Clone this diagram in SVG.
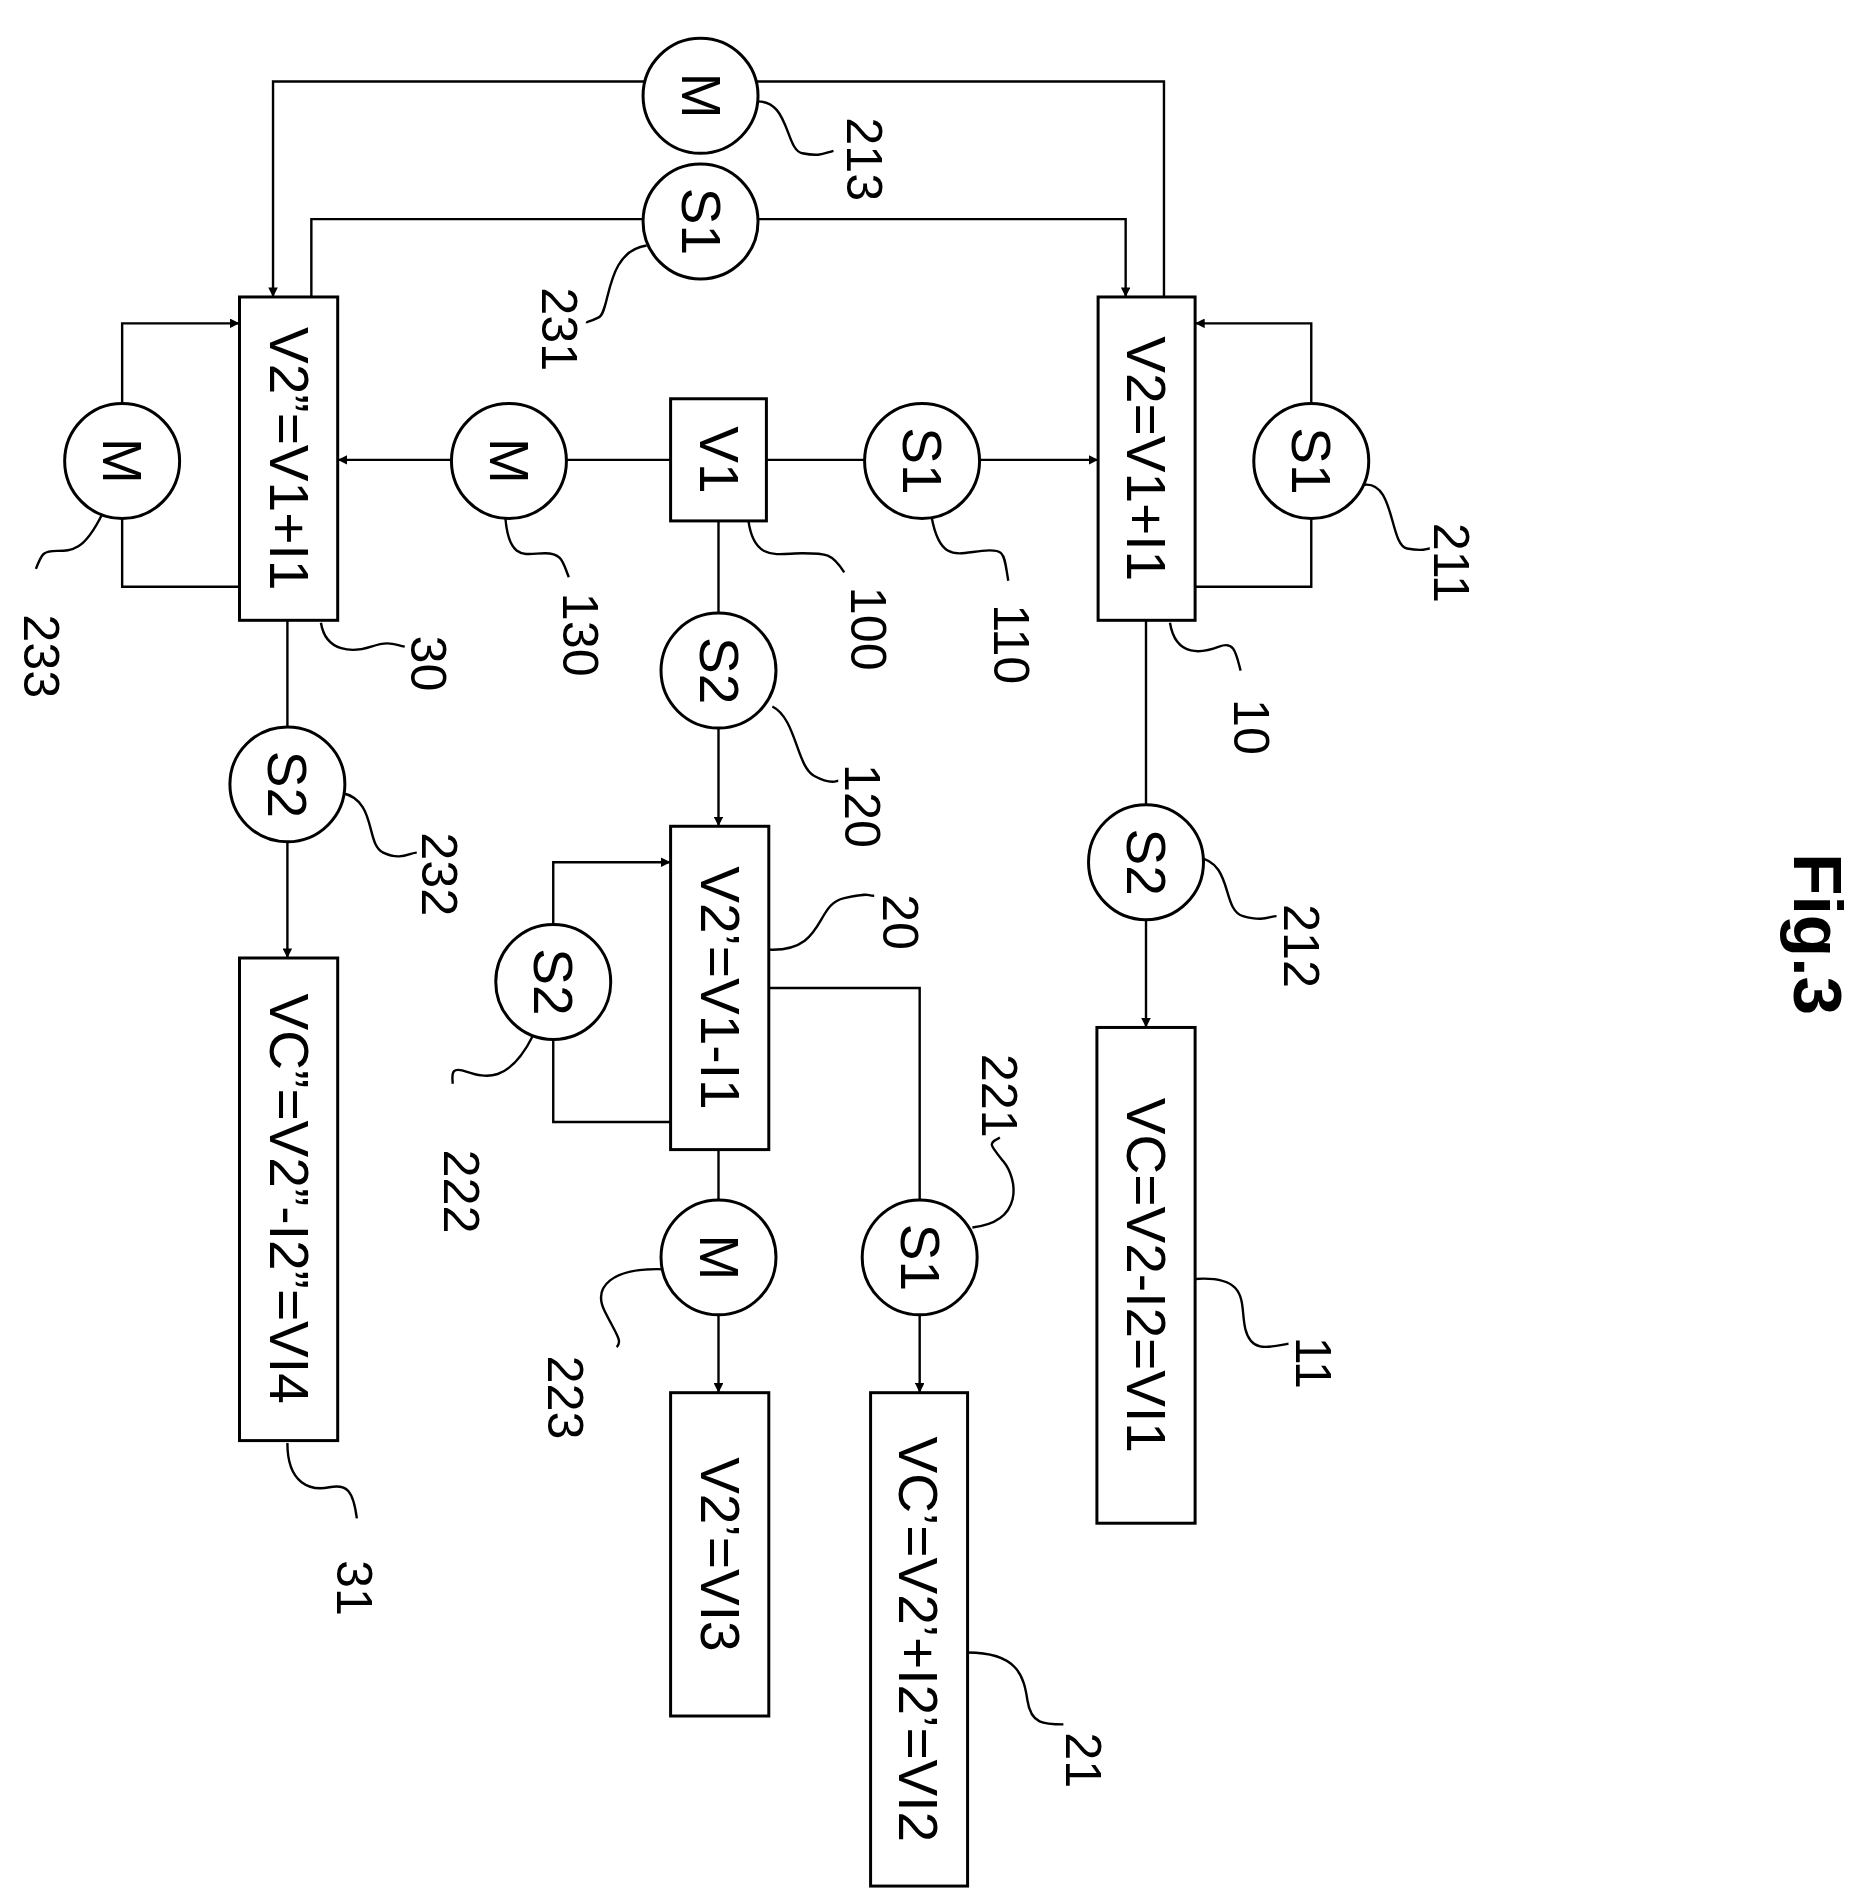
<svg xmlns="http://www.w3.org/2000/svg" width="1868" height="1904" viewBox="0 0 1868 1904">
<defs>
<style>
.b{fill:#fff;stroke:#000;stroke-width:2.5}
.c{fill:#fff;stroke:#000;stroke-width:2.5}
.l{fill:none;stroke:#000;stroke-width:2}
.t{font-family:"Liberation Sans",Arial,sans-serif;font-size:46px;text-anchor:middle;dominant-baseline:central}
.n{font-family:"Liberation Sans",Arial,sans-serif;font-size:42px;text-anchor:middle;dominant-baseline:central}
</style>
<marker id="a" viewBox="0 0 10 10" refX="10" refY="5" markerWidth="8" markerHeight="8" orient="auto" markerUnits="userSpaceOnUse"><path d="M0,0 L10,5 L0,10 z" fill="#000"/></marker>
</defs>
<rect width="1868" height="1904" fill="#fff"/>
<g transform="scale(1.1975)">
<g id="connectors">
<path class="l" d="M540,68 H228 V248" style="marker-end:url(#a)"/>
<path class="l" d="M630,68 H972 V248"/>
<path class="l" d="M540,183 H260 V248"/>
<path class="l" d="M630,183 H940 V248" style="marker-end:url(#a)"/>
<path class="l" d="M200,490 H102 V270 H200" style="marker-end:url(#a)"/>
<path class="l" d="M998,490 H1095 V270 H998" style="marker-end:url(#a)"/>
<path class="l" d="M560,384 H282" style="marker-end:url(#a)"/>
<path class="l" d="M640,384 H917" style="marker-end:url(#a)"/>
<path class="l" d="M600,435 V690" style="marker-end:url(#a)"/>
<path class="l" d="M560,937 H462 V720 H560" style="marker-end:url(#a)"/>
<path class="l" d="M600,960 V1163" style="marker-end:url(#a)"/>
<path class="l" d="M642,825 H768 V1163" style="marker-end:url(#a)"/>
<path class="l" d="M240,518 V800" style="marker-end:url(#a)"/>
<path class="l" d="M957,518 V858" style="marker-end:url(#a)"/>
<!-- leaders -->
<path class="l" d="M628,85 C660,80 655,125 670,128 S688,128 696,126"/>
<path class="l" d="M540,205 C505,210 510,260 500,265 S490,268 490,270"/>
<path class="l" d="M85,430 C70,460 60,460 48,460 S35,462 30,475"/>
<path class="l" d="M422,432 C425,470 440,462 455,462 S470,470 475,482"/>
<path class="l" d="M625,435 C630,470 650,462 670,462 S695,462 705,478"/>
<path class="l" d="M778,432 C785,470 800,462 820,460 S838,462 842,485"/>
<path class="l" d="M1138,405 C1165,400 1160,455 1175,458 S1190,458 1194,458"/>
<path class="l" d="M268,520 C272,545 295,545 310,540 S328,538 338,540"/>
<path class="l" d="M977,520 C982,550 1005,545 1018,540 S1032,545 1036,560"/>
<path class="l" d="M645,590 C665,600 665,640 680,648 S698,652 700,652"/>
<path class="l" d="M285,662 C315,668 305,705 320,712 S342,712 348,712"/>
<path class="l" d="M1000,716 C1030,720 1020,760 1038,765 S1060,765 1066,765"/>
<path class="l" d="M642,793 C690,795 680,755 705,750 S722,748 730,748"/>
<path class="l" d="M812,1025 C855,1020 850,985 838,970 S825,955 835,950"/>
<path class="l" d="M445,865 C425,905 405,900 390,895 S378,898 378,905"/>
<path class="l" d="M556,1060 C510,1058 495,1075 505,1095 S520,1120 515,1125"/>
<path class="l" d="M998,1068 C1045,1065 1035,1090 1040,1110 S1060,1125 1076,1122"/>
<path class="l" d="M240,1205 C240,1240 260,1245 275,1242 S295,1245 298,1268"/>
<path class="l" d="M808,1380 C850,1380 855,1400 858,1420 S872,1440 888,1440"/>
</g>
<g id="n100"><rect class="b" x="560" y="333" width="80" height="102"/><text class="t" transform="translate(600,384) rotate(90)">V1</text></g>
<g id="n10"><rect class="b" x="917" y="248" width="81" height="270"/><text class="t" transform="translate(957,383) rotate(90)">V2=V1+I1</text></g>
<g id="n30"><rect class="b" x="200" y="248" width="82" height="270"/><text class="t" transform="translate(241,383) rotate(90)">V2”=V1+I1</text></g>
<g id="n20"><rect class="b" x="560" y="690" width="82" height="270"/><text class="t" transform="translate(601,825) rotate(90)">V2’=V1-I1</text></g>
<g id="n11"><rect class="b" x="916" y="858" width="82" height="414"/><text class="t" transform="translate(957,1065) rotate(90)">VC=V2-I2=VI1</text></g>
<g id="n31"><rect class="b" x="200" y="800" width="82" height="403"/><text class="t" transform="translate(241,1001) rotate(90)">VC”=V2”-I2”=VI4</text></g>
<g id="nvi3"><rect class="b" x="560" y="1163" width="82" height="270"/><text class="t" transform="translate(601,1298) rotate(90)">V2’=VI3</text></g>
<g id="n21"><rect class="b" x="727" y="1163" width="81" height="412"/><text class="t" transform="translate(767,1369) rotate(90)">VC’=V2’+I2’=VI2</text></g>
<g id="c213"><circle class="c" cx="585" cy="80" r="48"/><text class="t" transform="translate(585,80) rotate(90)">M</text></g>
<g id="c231"><circle class="c" cx="585" cy="185" r="48"/><text class="t" transform="translate(585,185) rotate(90)">S1</text></g>
<g id="c233"><circle class="c" cx="102" cy="385" r="48"/><text class="t" transform="translate(102,385) rotate(90)">M</text></g>
<g id="c130"><circle class="c" cx="425" cy="385" r="48"/><text class="t" transform="translate(425,385) rotate(90)">M</text></g>
<g id="c110"><circle class="c" cx="770" cy="385" r="48"/><text class="t" transform="translate(770,385) rotate(90)">S1</text></g>
<g id="c211"><circle class="c" cx="1095" cy="385" r="48"/><text class="t" transform="translate(1095,385) rotate(90)">S1</text></g>
<g id="c120"><circle class="c" cx="600" cy="560" r="48"/><text class="t" transform="translate(600,560) rotate(90)">S2</text></g>
<g id="c232"><circle class="c" cx="240" cy="655" r="48"/><text class="t" transform="translate(240,655) rotate(90)">S2</text></g>
<g id="c212"><circle class="c" cx="957" cy="720" r="48"/><text class="t" transform="translate(957,720) rotate(90)">S2</text></g>
<g id="c222"><circle class="c" cx="462" cy="820" r="48"/><text class="t" transform="translate(462,820) rotate(90)">S2</text></g>
<g id="c223"><circle class="c" cx="600" cy="1050" r="48"/><text class="t" transform="translate(600,1050) rotate(90)">M</text></g>
<g id="c221"><circle class="c" cx="768" cy="1050" r="48"/><text class="t" transform="translate(768,1050) rotate(90)">S1</text></g>
<g id="labels">
<text class="n" transform="translate(722,133) rotate(90)">213</text>
<text class="n" transform="translate(467,275) rotate(90)">231</text>
<text class="n" transform="translate(35,548) rotate(90)">233</text>
<text class="n" transform="translate(485,530) rotate(90)">130</text>
<text class="n" transform="translate(725,525) rotate(90)">100</text>
<text class="n" transform="translate(845,538) rotate(90)">110</text>
<text class="n" transform="translate(1212,470) rotate(90)">211</text>
<text class="n" transform="translate(358,554) rotate(90)">30</text>
<text class="n" transform="translate(1045,607) rotate(90)">10</text>
<text class="n" transform="translate(720,673) rotate(90)">120</text>
<text class="n" transform="translate(367,730) rotate(90)">232</text>
<text class="n" transform="translate(1087,790) rotate(90)">212</text>
<text class="n" transform="translate(752,770) rotate(90)">20</text>
<text class="n" transform="translate(835,915) rotate(90)">221</text>
<text class="n" transform="translate(385,995) rotate(90)">222</text>
<text class="n" transform="translate(472,1167) rotate(90)">223</text>
<text class="n" transform="translate(1097,1138) rotate(90)">11</text>
<text class="n" transform="translate(296,1326) rotate(90)">31</text>
<text class="n" transform="translate(905,1470) rotate(90)">21</text>
<text class="t" style="font-weight:bold;font-size:58px" transform="translate(1518,780) rotate(90)">Fig.3</text>
</g>
</g>
</svg>
